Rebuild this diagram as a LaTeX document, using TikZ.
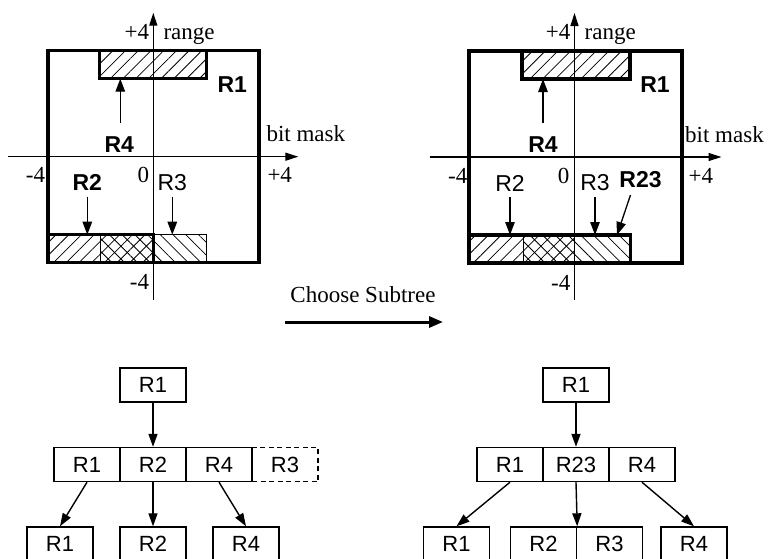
\documentclass[tikz,border=0pt]{standalone}
\usepackage{fontspec}
\setmainfont{Liberation Serif}
\setsansfont{Liberation Sans}
\usetikzlibrary{arrows.meta,patterns.meta}
\tikzset{
  serifl/.style={font=\fontsize{23}{26}\selectfont, inner sep=0pt},
  sansl/.style={font=\sffamily\fontsize{23}{25}\selectfont, inner sep=0pt},
  sansb/.style={font=\sffamily\bfseries\fontsize{23}{25}\selectfont, inner sep=0pt},
  axisarr/.style={line width=1.3pt, -{Triangle[length=13pt,width=8pt]}},
  frame/.style={line width=3.5pt},
  thinbox/.style={line width=1pt},
  ptr/.style={line width=1.3pt, -{Triangle[length=13pt,width=9.5pt]}},
  bigarr/.style={line width=3pt, -{Triangle[length=14pt,width=11pt]}},
  cell/.style={draw, line width=1.4pt, minimum width=66pt, minimum height=34pt, inner sep=0pt, font=\sffamily\fontsize{22}{24}\selectfont},
  tarr/.style={line width=1.4pt, -{Triangle[length=13pt,width=9pt]}},
  hatchNE/.style={pattern={Lines[angle=45,distance=9pt,line width=0.8pt]}},
  hatchNW/.style={pattern={Lines[angle=-45,distance=9pt,line width=0.8pt]}},
}
\begin{document}
\begin{tikzpicture}[x=1pt,y=-1pt]
\useasboundingbox (0,0) rectangle (769,558);
\clip (0,0) rectangle (769,558);

% ---------------- left plane ----------------
\begin{scope}[shift={(153.3,156.7)}]
  \fill[hatchNE] (-54,-106) rectangle (53,-78);
  \fill[hatchNE] (-105.5,78) rectangle (0,106);
  \fill[hatchNW] (-52.5,78) rectangle (53,106);
  \draw[thinbox] (-52.5,78) rectangle (53,106);
  \draw[frame] (-105.5,78) rectangle (0,106);
  \draw[frame] (-54,-106) rectangle (53,-78);
  \draw[frame] (-105.5,-106) rectangle (105.5,106);
  \coordinate (L-xs) at (-145,0);
  \coordinate (L-xe) at (145,0);
  \coordinate (L-ys) at (0,143);
  \coordinate (L-ye) at (0,-144);
  \draw[axisarr] (L-xs) -- (L-xe);
  \draw[axisarr] (L-ys) -- (L-ye);
  \node[serifl, anchor=base east] (L-p4t) at (-4,-117.5) {+4};
  \node[serifl, anchor=base west] (L-rng) at (10,-117.5) {range};
  \node[serifl, anchor=base west] (L-bm) at (113,-15) {bit mask};
  \node[serifl, anchor=base east] (L-m4l) at (-108,26) {-4};
  \node[serifl, anchor=base east] (L-zero) at (-4,26) {0};
  \node[serifl, anchor=base west] (L-p4r) at (114,26) {+4};
  \node[serifl, anchor=base east] (L-m4b) at (-4,133) {-4};
  \node[sansb] (L-R1) at (79,-72) {R1};
  \node[sansb] (L-R4) at (-34,-12) {R4};
  \node[sansb] (L-R2) at (-66,26) {R2};
  \node[sansl] (L-R3) at (19,26) {R3};
  \coordinate (L-R4s) at (-33,-34);
  \coordinate (L-R4e) at (-33,-78);
  \coordinate (L-R2s) at (-66,40);
  \coordinate (L-R2e) at (-66,78);
  \coordinate (L-R3s) at (19,40);
  \coordinate (L-R3e) at (19,78);
  \draw[ptr] (L-R4s) -- (L-R4e);
  \draw[ptr] (L-R2s) -- (L-R2e);
  \draw[ptr] (L-R3s) -- (L-R3e);
\end{scope}

% ---------------- right plane ----------------
\begin{scope}[shift={(574.5,157)}]
  \fill[hatchNE] (-52.5,-106) rectangle (55.5,-78);
  \fill[hatchNE] (-105.5,78) rectangle (0,106);
  \fill[hatchNW] (-51.5,78) rectangle (56,106);
  \draw[thinbox] (-51.5,78) -- (-51.5,106);
  \draw[frame] (-105.5,78) rectangle (56,106);
  \draw[frame] (-52.5,-106) rectangle (55.5,-78);
  \draw[frame] (-105.5,-106) rectangle (107.5,106);
  \coordinate (R-xs) at (-145,0);
  \coordinate (R-xe) at (147,0);
  \coordinate (R-ys) at (0,143);
  \coordinate (R-ye) at (0,-144);
  \draw[axisarr] (R-xs) -- (R-xe);
  \draw[axisarr] (R-ys) -- (R-ye);
  \node[serifl, anchor=base east] (R-p4t) at (-4,-117.5) {+4};
  \node[serifl, anchor=base west] (R-rng) at (10,-117.5) {range};
  \node[serifl, anchor=base west] (R-bm) at (110.5,-15) {bit mask};
  \node[serifl, anchor=base east] (R-m4l) at (-107,26) {-4};
  \node[serifl, anchor=base east] (R-zero) at (-5,26) {0};
  \node[serifl, anchor=base west] (R-p4r) at (114,26) {+4};
  \node[serifl, anchor=base east] (R-m4b) at (-4,133) {-4};
  \node[sansb] (R-R1) at (80.5,-72) {R1};
  \node[sansb] (R-R4) at (-31.5,-12) {R4};
  \node[sansl] (R-R2) at (-64.5,26) {R2};
  \node[sansl] (R-R3) at (20.5,26) {R3};
  \node[sansb] (R-R23) at (66,23) {R23};
  \coordinate (R-R4s) at (-31.5,-34);
  \coordinate (R-R4e) at (-31.5,-78);
  \coordinate (R-R2s) at (-64.5,40);
  \coordinate (R-R2e) at (-64.5,78);
  \coordinate (R-R3s) at (20.5,40);
  \coordinate (R-R3e) at (20.5,78);
  \coordinate (R-R23s) at (56,38);
  \coordinate (R-R23e) at (42.5,78);
  \draw[ptr] (R-R4s) -- (R-R4e);
  \draw[ptr] (R-R2s) -- (R-R2e);
  \draw[ptr] (R-R3s) -- (R-R3e);
  \draw[ptr] (R-R23s) -- (R-R23e);
\end{scope}

% ---------------- choose subtree ----------------
\node[serifl] (cs) at (363,295) {Choose Subtree};
\coordinate (cs-a) at (285,322);
\coordinate (cs-b) at (443,322);
\draw[bigarr] (cs-a) -- (cs-b);

% ---------------- left tree ----------------
\node[cell] (LT-root) at (153,385) {R1};
\node[cell, dash pattern=on 5pt off 3.5pt] (LT-m4) at (285,464.5) {R3};
\node[cell] (LT-m1) at (87,464.5) {R1};
\node[cell] (LT-m2) at (153,464.5) {R2};
\node[cell] (LT-m3) at (219,464.5) {R4};
\node[cell] (LT-b1) at (60,544) {R1};
\node[cell] (LT-b2) at (153,544) {R2};
\node[cell] (LT-b3) at (246,544) {R4};
\draw[tarr] (LT-root) -- (LT-m2);
\draw[tarr] (LT-m1.south) -- (LT-b1.north);
\draw[tarr] (LT-m2) -- (LT-b2);
\draw[tarr] (LT-m3.south) -- (LT-b3.north);

% ---------------- right tree ----------------
\node[cell] (RT-root) at (576,385) {R1};
\node[cell] (RT-m1) at (510,464.5) {R1};
\node[cell] (RT-m2) at (576,464.5) {R23};
\node[cell] (RT-m3) at (642,464.5) {R4};
\node[cell] (RT-b1) at (456.5,544) {R1};
\node[cell] (RT-b2) at (543.5,544) {R2};
\node[cell] (RT-b3) at (609.5,544) {R3};
\node[cell] (RT-b4) at (694,544) {R4};
\draw[tarr] (RT-root) -- (RT-m2);
\draw[tarr] (RT-m1.south) -- (RT-b1.north);
\draw[tarr] (RT-m2.south) -- (RT-b2.north east);
\draw[tarr] (RT-m3.south) -- (RT-b4.north);
\end{tikzpicture}
\end{document}
